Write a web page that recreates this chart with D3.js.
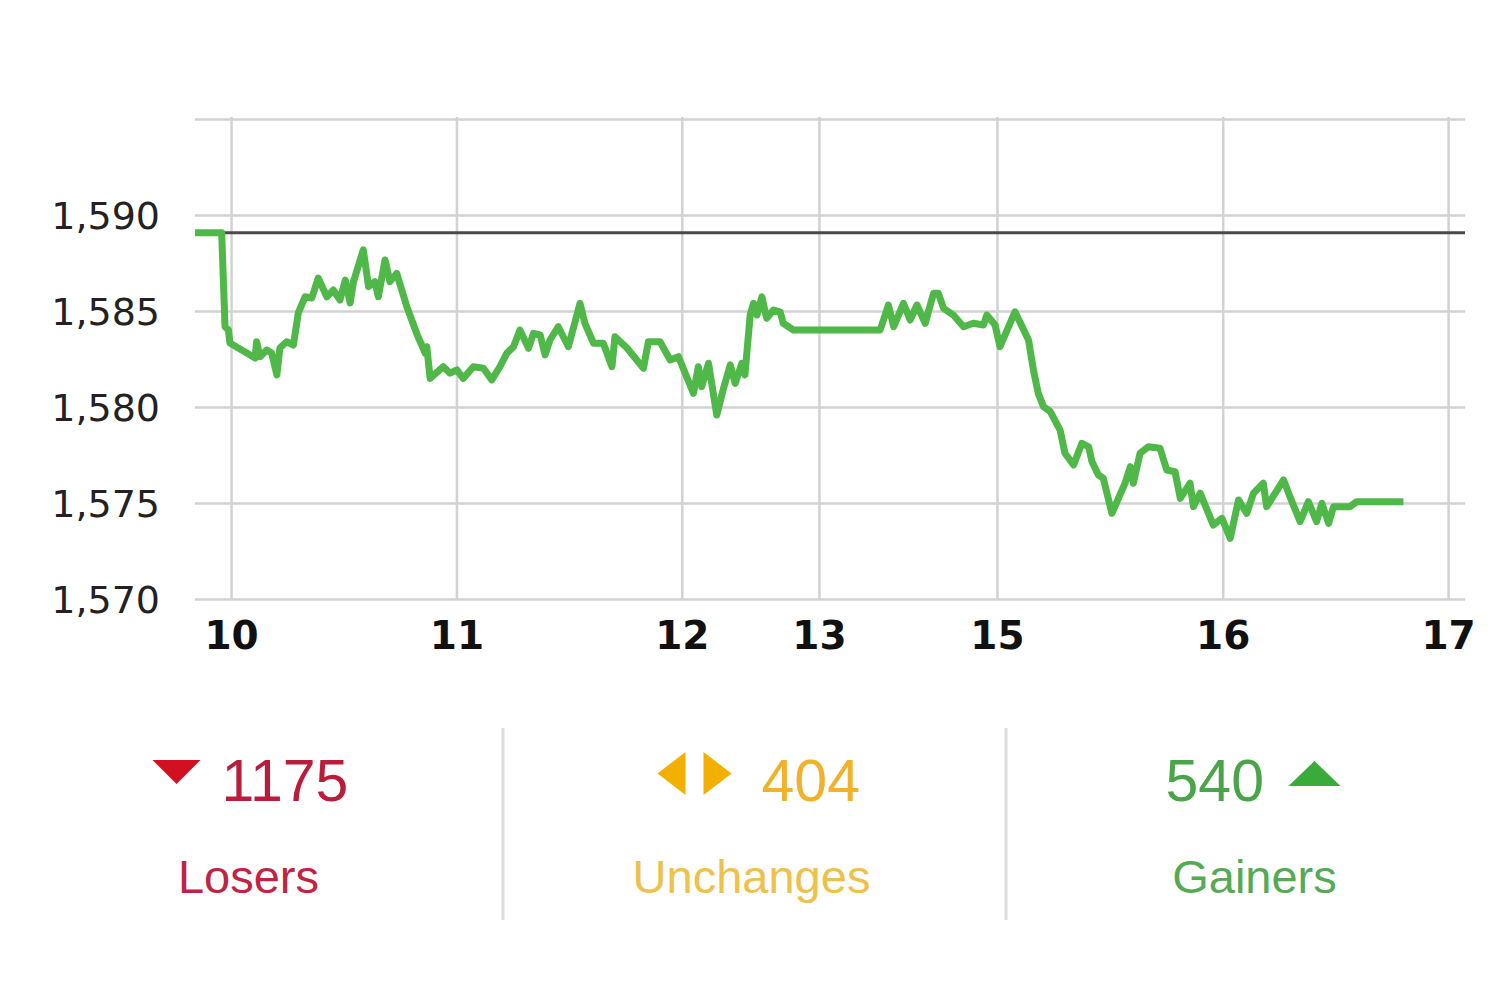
<!DOCTYPE html>
<html><head><meta charset="utf-8">
<script src="https://cdn.jsdelivr.net/npm/d3@7"></script>
<style>body{margin:0;background:#fff}svg{display:block}</style></head>
<body><svg id="c" width="1500" height="999"></svg>
<script>
// session minutes after 10:00 (lunch break compressed) and index values
const sessionMinutes = [-9.6,-2.5,-1.6,-0.7,-0.3,1.9,4.2,6.4,6.8,7.7,9.5,10.8,12.2,13.0,14.8,16.6,17.9,19.7,21.5,23.2,25.5,27.2,29.0,30.4,31.7,32.6,35.2,36.6,38.3,39.2,41.0,42.3,44.1,46.8,49.4,51.7,52.1,53.0,56.5,58.3,60.1,61.8,64.5,67.2,69.4,71.6,73.4,75.2,76.9,79.2,80.5,82.3,83.6,84.9,87.1,89.8,92.9,94.2,96.5,99.1,101.4,102.2,105.4,108.0,109.8,111.1,114.2,116.9,119.1,120.9,123.1,124.4,125.3,127.1,129.3,131.1,132.9,134.2,136.0,136.8,138.2,139.1,140.0,141.3,142.6,144.4,146.2,147.0,149.7,172.8,175.0,176.4,179.0,180.8,182.6,184.8,187.0,188.3,189.7,192.3,195.0,197.6,200.3,201.2,203.4,204.7,208.7,212.3,213.6,214.9,216.3,218.1,220.7,222.0,224.3,226.5,228.3,229.2,230.9,232.2,234.5,238.0,239.4,240.2,242.0,244.2,247.3,249.1,251.3,252.7,255.3,256.2,258.0,261.5,263.8,266.0,268.2,270.4,272.2,274.8,275.7,280.2,281.9,284.6,286.8,289.0,290.4,292.2,293.5,297.9,299.7,312.1];
const indexValues = [1589.08,1589.08,1584.18,1584.01,1583.33,1583.07,1582.81,1582.55,1583.40,1582.62,1582.97,1582.81,1581.67,1583.07,1583.40,1583.23,1584.90,1585.74,1585.68,1586.72,1585.74,1586.09,1585.57,1586.61,1585.42,1586.53,1588.18,1586.27,1586.53,1585.74,1587.66,1586.53,1586.96,1585.22,1583.84,1582.80,1583.14,1581.49,1582.10,1581.76,1581.93,1581.49,1582.10,1582.02,1581.41,1582.10,1582.80,1583.14,1584.01,1583.06,1583.84,1583.75,1582.71,1583.49,1584.18,1583.14,1585.40,1584.36,1583.32,1583.32,1582.10,1583.66,1583.07,1582.45,1582.02,1583.40,1583.40,1582.45,1582.62,1581.76,1580.71,1582.10,1581.06,1582.28,1579.58,1580.97,1582.19,1581.23,1582.28,1581.67,1584.79,1585.40,1584.79,1585.74,1584.62,1585.05,1584.96,1584.36,1584.01,1584.01,1585.31,1584.18,1585.40,1584.53,1585.31,1584.36,1585.92,1585.92,1585.14,1584.79,1584.18,1584.36,1584.27,1584.79,1584.27,1583.14,1584.96,1583.49,1581.93,1580.71,1580.02,1579.76,1578.80,1577.59,1576.98,1578.11,1577.93,1577.15,1576.46,1576.29,1574.46,1576.03,1576.89,1576.03,1577.59,1577.93,1577.85,1576.72,1576.63,1575.24,1576.03,1574.81,1575.51,1573.85,1574.20,1573.16,1575.16,1574.46,1575.51,1576.03,1574.81,1576.20,1575.33,1574.03,1575.07,1574.03,1574.98,1573.94,1574.81,1574.81,1575.07,1575.07];
const previousClose = 1589.08;
const xTickLabels = ["10","11","12","13","15","16","17"];
const xTickMinutes = [0,60,120,156.5,203.9,264,324];
const yTickValues = [1570,1575,1580,1585,1590,1595];
const summaryLabels = ["Losers","Unchanges","Gainers"];
const summaryCounts = [1175,404,540];

const svg = d3.select("#c");
const L = 195, R = 1465, T = 117, B = 599;
const x = d3.scaleLinear().domain([-9.6, 328.5]).range([L, R]);
const y = d3.scaleLinear().domain([1570, 1595]).range([B, 119]);

// y axis + horizontal grid
const fmt = d3.format(",");
const yAx = svg.append("g").attr("transform", `translate(${L},0)`)
  .call(d3.axisLeft(y).tickValues(yTickValues).tickSize(-(R - L)).tickPadding(35)
    .tickFormat(d => d === 1595 ? "" : fmt(d)));
yAx.select(".domain").remove();
yAx.selectAll("line").attr("stroke", "#d2d2d2").attr("stroke-width", 2.5);
yAx.selectAll("text").attr("font-family", "DejaVu Sans").attr("font-size", 38).attr("fill", "#222").attr("dy", "0.36em");

// x axis + vertical grid
const xAx = svg.append("g").attr("transform", `translate(0,${B})`)
  .call(d3.axisBottom(x).tickValues(xTickMinutes).tickSize(-(B - T)).tickPadding(22)
    .tickFormat((d, i) => xTickLabels[i]));
xAx.select(".domain").remove();
xAx.selectAll("line").attr("stroke", "#d2d2d2").attr("stroke-width", 2.5);
xAx.selectAll("text").attr("font-family", "DejaVu Sans").attr("font-weight", "bold").attr("font-size", 39).attr("fill", "#111");

// previous close line
svg.append("line").attr("x1", L).attr("x2", R).attr("y1", y(previousClose)).attr("y2", y(previousClose))
  .attr("stroke", "#4a4a4a").attr("stroke-width", 3);

// index line
const pts = sessionMinutes.map((m, i) => [m, indexValues[i]]);
svg.append("path").datum(pts)
  .attr("d", d3.line().x(d => x(d[0])).y(d => y(d[1])))
  .attr("fill", "none").attr("stroke", "#4fb848").attr("stroke-width", 7)
  .attr("stroke-linejoin", "round").attr("stroke-linecap", "butt");

// summary panel
const band = d3.scaleBand().domain(summaryLabels).range([0, 1509]);
const numColors = ["#b81e3c", "#f0b22a", "#4aa44a"];
const lblColors = ["#c02444", "#eec14a", "#55aa55"];
const iconColors = ["#d3101f", "#f4b000", "#3aaa3a"];
[1, 2].forEach(i => {
  svg.append("line").attr("x1", band(summaryLabels[i])).attr("x2", band(summaryLabels[i]))
    .attr("y1", 728).attr("y2", 920).attr("stroke", "#dcdcdc").attr("stroke-width", 3);
});
summaryLabels.forEach((lab, i) => {
  const cx = band(lab) + band.bandwidth() / 2;
  const g = svg.append("g");
  g.append("text").attr("x", cx - 3).attr("y", 893).attr("text-anchor", "middle")
    .attr("font-family", "Liberation Sans, Arial").attr("font-size", 47).attr("fill", lblColors[i]).text(lab);
  const num = g.append("text").attr("y", 801).attr("font-family", "Liberation Sans, Arial")
    .attr("font-size", 59).attr("fill", numColors[i]).text(summaryCounts[i]);
  if (i === 0) {
    num.attr("x", cx - 30);
    g.append("path").attr("d", `M${cx-99},760 L${cx-51},760 L${cx-75},784 Z`).attr("fill", iconColors[i]);
  } else if (i === 1) {
    num.attr("x", cx + 7);
    g.append("path").attr("d", `M${cx-69},752 L${cx-69},795 L${cx-97},773.5 Z`).attr("fill", iconColors[i]);
    g.append("path").attr("d", `M${cx-51},752 L${cx-51},795 L${cx-23},773.5 Z`).attr("fill", iconColors[i]);
  } else {
    num.attr("x", cx - 92);
    g.append("path").attr("d", `M${cx+31},786 L${cx+83},786 L${cx+57},761 Z`).attr("fill", iconColors[i]);
  }
});
</script></body></html>
